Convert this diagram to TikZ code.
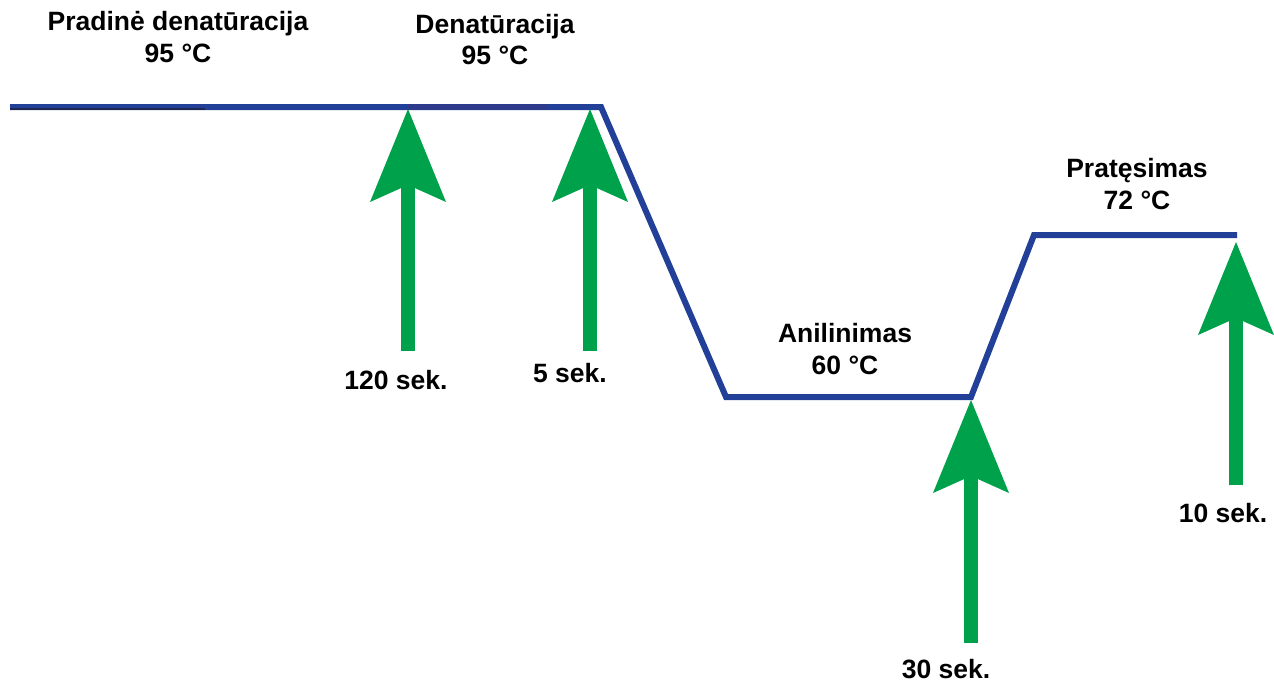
\documentclass[tikz,border=0pt]{standalone}
\usepackage{fontspec}
\setmainfont{Liberation Sans}
\usetikzlibrary{arrows.meta}
\definecolor{pcrblue}{RGB}{35,64,153}
\definecolor{pcrblueb}{RGB}{46,58,140}
\definecolor{pcrdark}{RGB}{30,40,80}
\definecolor{pcrgreen}{RGB}{0,161,75}
\begin{document}
\begin{tikzpicture}[x=1pt,y=-1pt,
  lbl/.style={font=\fontsize{26.5}{32}\selectfont\bfseries, align=center, inner sep=0pt, anchor=base},
  tline/.style={draw=pcrblue, line width=6pt, miter limit=10, line join=miter},
  garrow/.style={draw=pcrgreen, line width=14.5pt,
    -{Stealth[length=93pt, width=76pt, inset=17pt, line width=0pt, fill=pcrgreen]}}]
\useasboundingbox (0,0) rectangle (1274,685);
% temperature profile
\coordinate (p0) at (10,107);
\coordinate (p1) at (601,107);
\coordinate (p2) at (726,397);
\coordinate (p3) at (971,397);
\coordinate (p4) at (1034,235);
\coordinate (p5) at (1237,235);
\draw[tline] (p0) -- (p1) -- (p2) -- (p3) -- (p4) -- (p5);
\coordinate (d0) at (408,107);
\coordinate (d1) at (548,107);
\draw[draw=pcrblueb, line width=6pt] (d0) -- (d1);
\coordinate (k0) at (10,108.5);
\coordinate (k1) at (205,108.5);
\draw[draw=pcrdark, line width=2pt] (k0) -- (k1);
% arrows
\coordinate (a1b) at (408,351);  \coordinate (a1t) at (408,109);
\coordinate (a2b) at (590,351);  \coordinate (a2t) at (590,109);
\coordinate (a3b) at (971,643);  \coordinate (a3t) at (971,400);
\coordinate (a4b) at (1236,485); \coordinate (a4t) at (1236,242);
\draw[garrow] (a1b) -- (a1t);
\draw[garrow] (a2b) -- (a2t);
\draw[garrow] (a3b) -- (a3t);
\draw[garrow] (a4b) -- (a4t);
% labels (base anchor = baseline of the last line)
\node[lbl] (l1) at (178,63) {Pradinė denatūracija\\95 °C};
\node[lbl] (l2) at (495,65) {Denatūracija\\95 °C};
\node[lbl] (l3) at (845,374) {Anilinimas\\60 °C};
\node[lbl] (l4) at (1137,209) {Pratęsimas\\72 °C};
\node[lbl] (t1) at (396,389) {120 sek.};
\node[lbl] (t2) at (570,382) {5 sek.};
\node[lbl] (t3) at (946,678) {30 sek.};
\node[lbl] (t4) at (1223,522) {10 sek.};
\end{tikzpicture}
\end{document}
